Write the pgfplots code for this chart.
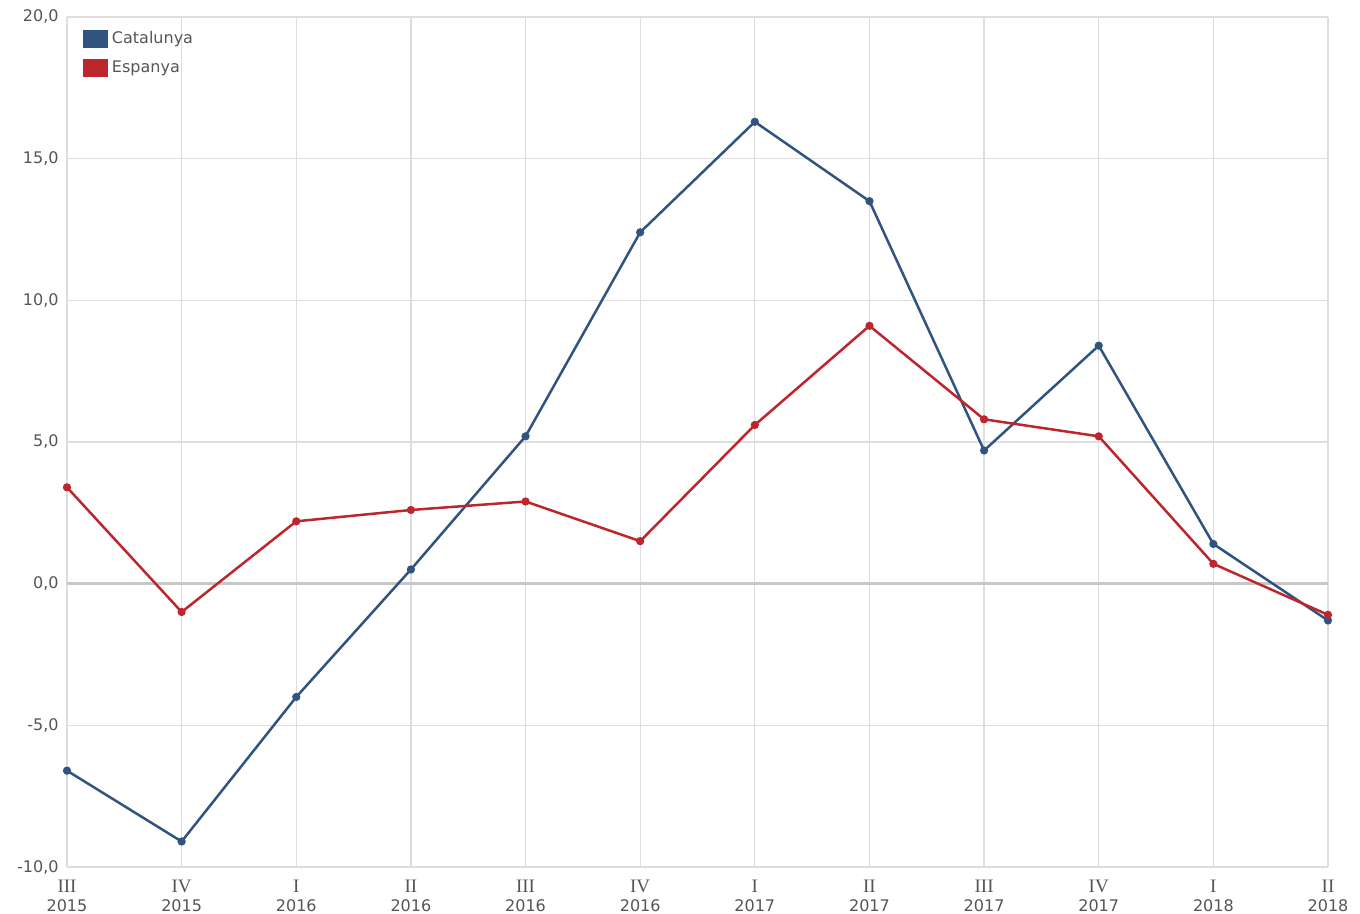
\documentclass[border=0pt]{standalone}
\usepackage{pgfplots}
\pgfplotsset{compat=1.18}
\usetikzlibrary{calc}
\usepackage{fontspec}
\setmainfont{DejaVu Sans}
\newfontfamily\romfont{Liberation Serif}
\definecolor{catblue}{RGB}{48,84,128}
\definecolor{espred}{RGB}{188,38,44}
\definecolor{gridgray}{RGB}{222,222,222}
\definecolor{txtgray}{RGB}{85,85,85}
\pgfplotstableread{
x cat esp
0 -6.6 3.4
1 -9.1 -1.0
2 -4.0 2.2
3 0.5 2.6
4 5.2 2.9
5 12.4 1.5
6 16.3 5.6
7 13.5 9.1
8 4.7 5.8
9 8.4 5.2
10 1.4 0.7
11 -1.3 -1.1
}\datatable
\newcommand{\rom}[1]{{\romfont\fontsize{9.5}{9.5}\selectfont #1}}
\begin{document}
\begin{tikzpicture}
\begin{axis}[
  name=ax,
  scale only axis,
  width=630.5pt, height=425pt,
  xmin=0, xmax=11, ymin=-10, ymax=20,
  xtick={0,...,11},
  xticklabels={{\rom{III}\\2015},{\rom{IV}\\2015},{\rom{I}\\2016},{\rom{II}\\2016},{\rom{III}\\2016},{\rom{IV}\\2016},{\rom{I}\\2017},{\rom{II}\\2017},{\rom{III}\\2017},{\rom{IV}\\2017},{\rom{I}\\2018},{\rom{II}\\2018}},
  xticklabel style={align=center, font=\fontsize{8}{9.2}\selectfont, text=txtgray, inner sep=1pt, yshift=-5.5pt},
  ytick={-10,-5,0,5,10,15,20},
  yticklabels={{-10,0},{-5,0},{0,0},{5,0},{10,0},{15,0},{20,0}},
  yticklabel style={font=\fontsize{8}{9.6}\selectfont, text=txtgray, inner sep=1pt, xshift=-3pt},
  major tick length=0pt,
  grid=major,
  major grid style={gridgray, line width=0.6pt},
  axis line style={gridgray, line width=0.6pt},
  axis x line*=bottom,
  axis y line*=left,
  clip=false,
  legend style={at={(0.008,0.993)}, anchor=north west, draw=none, fill=none,
    font=\fontsize{8}{9.6}\selectfont, text=txtgray, row sep=3pt},
  legend cell align=left,
  legend image code/.code={\fill[#1] (0pt,-4pt) rectangle (11pt,4pt);},
]
\draw[black!22, line width=1.2pt] (axis cs:0,0) -- (axis cs:11,0);
\addplot[catblue, line width=1.25pt, mark=*, mark size=1.4pt] table[x=x,y=cat]{\datatable};
\addlegendentry{Catalunya}
\addplot[espred, line width=1.25pt, mark=*, mark size=1.4pt] table[x=x,y=esp]{\datatable};
\addlegendentry{Espanya}
\end{axis}
\path ($(ax.south west)+(-33.5pt,-23.5pt)$) rectangle ($(ax.north east)+(16pt,8.5pt)$);
\end{tikzpicture}
\end{document}
